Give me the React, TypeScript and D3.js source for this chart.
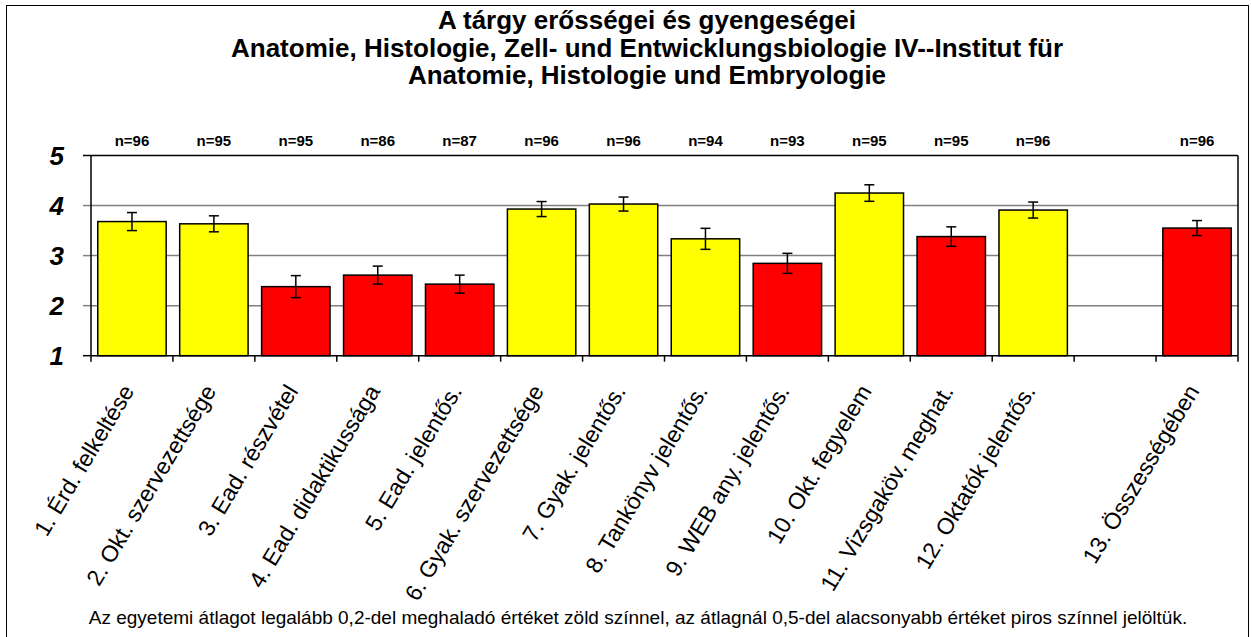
import React from "react";
import * as d3 from "d3";

const titleLines = [
  "A tárgy erősségei és gyengeségei",
  "Anatomie, Histologie, Zell- und Entwicklungsbiologie IV--Institut für",
  "Anatomie, Histologie und Embryologie",
];

const categories = [
  "1. Érd. felkeltése",
  "2. Okt. szervezettsége",
  "3. Ead. részvétel",
  "4. Ead. didaktikussága",
  "5. Ead. jelentős.",
  "6. Gyak. szervezettsége",
  "7. Gyak. jelentős.",
  "8. Tankönyv jelentős.",
  "9. WEB any. jelentős.",
  "10. Okt. fegyelem",
  "11. Vizsgaköv. meghat.",
  "12. Oktatók jelentős.",
  "",
  "13. Összességében",
];

const means: (number | null)[] = [3.68, 3.635, 2.38, 2.61, 2.43, 3.93, 4.03, 3.335, 2.845, 4.25, 3.38, 3.91, null, 3.55];
const errors: (number | null)[] = [0.18, 0.16, 0.22, 0.18, 0.18, 0.15, 0.14, 0.21, 0.2, 0.165, 0.195, 0.16, null, 0.15];
const counts = ["n=96", "n=95", "n=95", "n=86", "n=87", "n=96", "n=96", "n=94", "n=93", "n=95", "n=95", "n=96", "", "n=96"];
const levels = ["good", "good", "bad", "bad", "bad", "good", "good", "good", "bad", "good", "bad", "good", "", "bad"];
const yTicks = [1, 2, 3, 4, 5];
const footnote =
  "Az egyetemi átlagot legalább 0,2-del meghaladó értéket zöld színnel, az átlagnál 0,5-del alacsonyabb értéket piros színnel jelöltük.";

const W = 1252;
const H = 637;
const plot = { left: 91, right: 1238, top: 155.5, bottom: 355.7 };
const font = "Arial, 'Liberation Sans', Helvetica, sans-serif";

export default function App() {
  const idx = categories.map((_, i) => String(i));
  const x = d3
    .scaleBand<string>()
    .domain(idx)
    .range([plot.left, plot.right])
    .paddingInner(0.165)
    .paddingOuter(0.0825);
  const step = x.step();
  const y = d3.scaleLinear().domain([1, 5]).range([plot.bottom, plot.top]);
  const color = (l: string) => (l === "good" ? "#FFFF00" : "#FF0000");
  const boundaries = d3.range(categories.length + 1).map((i) => plot.left + i * step);

  return (
    <svg
      width={W}
      height={H}
      style={{ position: "absolute", left: 0, top: 0, background: "#fff" }}
      fontFamily={font}
    >
      <rect x={0} y={0} width={W} height={H} fill="#fff" />
      <rect x={6.5} y={5.5} width={1242} height={H} fill="none" stroke="#000" strokeWidth={1} />
      {titleLines.map((t, i) => (
        <text key={i} x={647} y={29 + i * 27.5} textAnchor="middle" fontWeight="bold" fontSize={26} fill="#000">
          {t}
        </text>
      ))}
      {/* gridlines */}
      {yTicks
        .filter((v) => v !== 1 && v !== 5)
        .map((v) => (
          <line key={v} x1={plot.left} x2={plot.right} y1={y(v)} y2={y(v)} stroke="#808080" strokeWidth={1.5} />
        ))}
      {/* y ticks */}
      {yTicks.map((v) => (
        <g key={v}>
          <line x1={plot.left - 8} x2={plot.left} y1={y(v)} y2={y(v)} stroke={v === 1 || v === 5 ? "#000" : "#808080"} strokeWidth={1.5} />
          <text x={64} y={y(v) + 9} textAnchor="end" fontWeight="bold" fontStyle="italic" fontSize={26} fill="#000">
            {v}
          </text>
        </g>
      ))}
      {/* bars */}
      {means.map((m, i) =>
        m === null ? null : (
          <rect
            key={i}
            x={x(String(i))!}
            y={y(m)}
            width={x.bandwidth()}
            height={y(1) - y(m)}
            fill={color(levels[i])}
            stroke="#000"
            strokeWidth={1.5}
          />
        )
      )}
      {/* error bars */}
      {means.map((m, i) => {
        if (m === null || errors[i] === null) return null;
        const cx = x(String(i))! + x.bandwidth() / 2;
        const e = errors[i] as number;
        return (
          <g key={i} stroke="#000" strokeWidth={1.5}>
            <line x1={cx} x2={cx} y1={y(m + e)} y2={y(m - e)} />
            <line x1={cx - 5} x2={cx + 5} y1={y(m + e)} y2={y(m + e)} />
            <line x1={cx - 5} x2={cx + 5} y1={y(m - e)} y2={y(m - e)} />
          </g>
        );
      })}
      {/* frame */}
      <line x1={plot.left} x2={plot.right} y1={plot.top} y2={plot.top} stroke="#000" strokeWidth={1.5} />
      <line x1={plot.right} x2={plot.right} y1={plot.top} y2={plot.bottom} stroke="#000" strokeWidth={1.5} />
      <line x1={plot.left} x2={plot.left} y1={plot.top} y2={plot.bottom} stroke="#000" strokeWidth={1.5} />
      <line x1={plot.left} x2={plot.right} y1={plot.bottom} y2={plot.bottom} stroke="#000" strokeWidth={1.5} />
      {boundaries.map((bx, i) => (
        <line key={i} x1={bx} x2={bx} y1={plot.bottom} y2={plot.bottom + 6} stroke="#000" strokeWidth={1.5} />
      ))}
      {/* n labels */}
      {counts.map((c, i) => (
        <text key={i} x={x(String(i))! + x.bandwidth() / 2} y={146} textAnchor="middle" fontWeight="bold" fontSize={15} fill="#000">
          {c}
        </text>
      ))}
      {/* category labels */}
      {categories.map((c, i) => {
        const cx = x(String(i))! + x.bandwidth() / 2;
        return (
          <text
            key={i}
            transform={`translate(${cx + 3},${391}) rotate(-59)`}
            textAnchor="end"
            fontSize={23}
            fill="#000"
          >
            {c}
          </text>
        );
      })}
      <text x={638} y={624} textAnchor="middle" fontSize={19} fill="#000">
        {footnote}
      </text>
    </svg>
  );
}
